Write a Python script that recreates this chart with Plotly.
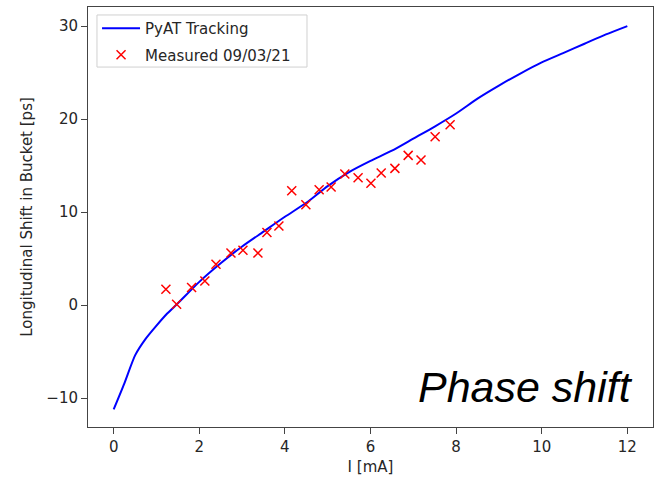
import plotly.graph_objects as go

# PyAT tracking simulation curve
sim_current = [0, 0.25, 0.5, 0.75, 1, 1.25, 1.5, 2, 2.5, 3, 3.5, 4, 4.5, 5, 5.5, 6,
               6.5, 7, 7.5, 8, 8.5, 9, 9.5, 10, 10.5, 11, 11.5, 12]
sim_shift = [-11.2, -8.4, -5.4, -3.6, -2.2, -0.9, 0.2, 2.5, 4.5, 6.3, 7.9, 9.5,
             11.0, 12.8, 14.3, 15.5, 16.6, 17.9, 19.2, 20.6, 22.2, 23.6, 24.9,
             26.1, 27.1, 28.1, 29.1, 30.0]

# Measured 09/03/21
meas_current = [1.22, 1.47, 1.82, 2.13, 2.39, 2.74, 3.02, 3.37, 3.58, 3.86, 4.16,
                4.49, 4.80, 5.08, 5.40, 5.71, 6.01, 6.25, 6.57, 6.88, 7.18, 7.51, 7.86]
meas_shift = [1.7, 0.1, 1.9, 2.6, 4.4, 5.6, 5.9, 5.6, 7.8, 8.5, 12.3,
              10.8, 12.4, 12.7, 14.1, 13.7, 13.1, 14.2, 14.7, 16.1, 15.6, 18.1, 19.4]

x_ticks = [0, 2, 4, 6, 8, 10, 12]
y_ticks = [-10, 0, 10, 20, 30]

fig = go.Figure()
fig.add_trace(go.Scatter(
    x=sim_current, y=sim_shift, mode="lines", name="PyAT Tracking",
    line=dict(color="#0000ff", width=2, shape="spline", smoothing=0.6), legendgroup="a"))
fig.add_trace(go.Scatter(
    x=meas_current, y=meas_shift, mode="markers", name="Measured 09/03/21",
    marker=dict(symbol="x-thin", size=9, color="#ff0000",
                line=dict(width=1.5, color="#ff0000")), legendgroup="b"))

axis_common = dict(showline=True, mirror=True, linecolor="#444", linewidth=1,
                   ticks="outside", ticklen=6, tickcolor="#444", showgrid=False,
                   zeroline=False, automargin=False,
                   tickfont=dict(family="DejaVu Sans", size=15, color="#262626"))

fig.update_layout(
    width=665, height=477,
    margin=dict(l=88, r=12, t=7, b=50),
    plot_bgcolor="white", paper_bgcolor="white",
    font=dict(family="DejaVu Sans", size=15, color="#262626"),
    xaxis=dict(range=[-0.6, 12.6], tickvals=x_ticks,
               title=dict(text="I [mA]", font=dict(size=15), standoff=6), **axis_common),
    yaxis=dict(range=[-13.1, 32.05], tickvals=y_ticks,
               title=dict(text="Longitudinal Shift in Bucket [ps]", font=dict(size=15), standoff=10),
               **axis_common),
    legend=dict(x=0.016, y=0.988, xanchor="left", yanchor="top",
                bgcolor="rgba(0,0,0,0)", borderwidth=0, itemwidth=38,
                font=dict(size=15, color="#262626"), traceorder="grouped",
                tracegroupgap=4),
    showlegend=True,
    shapes=[dict(type="rect", xref="paper", yref="paper",
                 x0=0.0159, x1=0.3876, y0=0.857, y1=0.981,
                 line=dict(color="#d0d0d0", width=1),
                 fillcolor="rgba(255,255,255,0.8)", layer="above")],
    annotations=[dict(text="<i>Phase shift</i>", xref="paper", yref="paper",
                      x=0.969, y=0.095, xanchor="right", yanchor="middle",
                      showarrow=False,
                      font=dict(family="Liberation Sans", size=43, color="black"))],
)

fig.write_html("out.html", config={"displayModeBar": False},
               post_script="document.body.style.margin='0px';")
